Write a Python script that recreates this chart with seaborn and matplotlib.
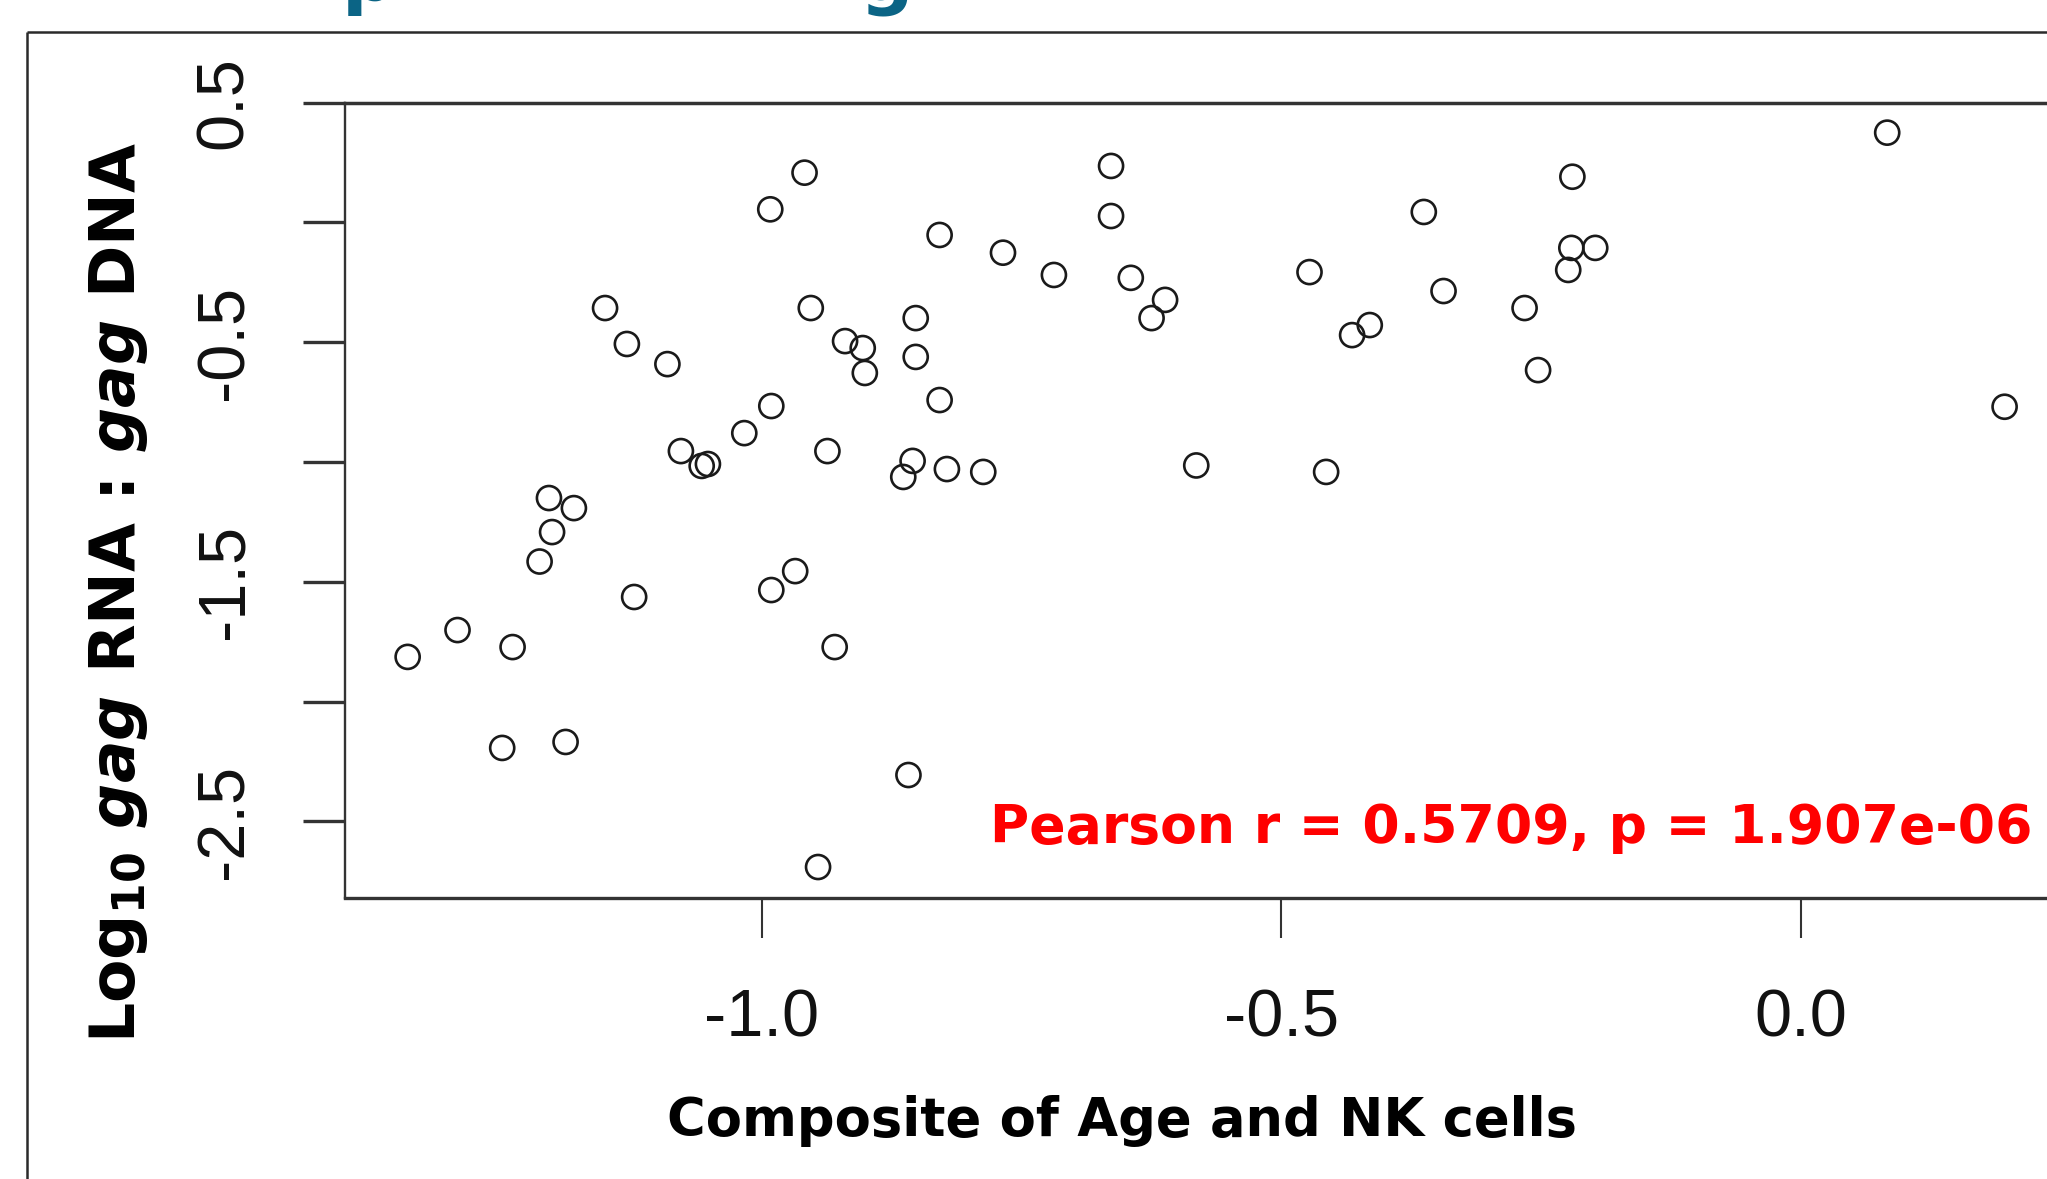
import matplotlib
matplotlib.use("Agg")
import matplotlib.pyplot as plt
from matplotlib.lines import Line2D
import seaborn as sns
import pandas as pd

# ---- data ----
composite = [-0.959, -0.992, -0.664, -0.664, -0.829, -0.768, -0.719, -0.645, -0.612, -0.625,
             -1.151, -0.953, -1.130, -1.091, -0.920, -0.903, -0.901, -0.852, -0.852, -0.829,
             -0.991, -1.017, -1.078, -1.058, -1.052, -0.937, -0.855, -0.864, -0.822, -0.787,
             -0.582, -1.205, -1.181, -1.202, -1.214, -1.123, -0.991, -0.968, -1.293, -1.341,
             -1.240, -0.930, -1.250, -1.189, -0.859, -0.946, 0.083, -0.220, -0.363, -0.221,
             -0.198, -0.224, -0.473, -0.344, -0.266, -0.415, -0.432, -0.253, 0.196, -0.457]
log_ratio = [0.208, 0.055, 0.236, 0.027, -0.052, -0.126, -0.219, -0.231, -0.323, -0.399,
             -0.357, -0.357, -0.507, -0.591, -0.495, -0.524, -0.628, -0.399, -0.561, -0.741,
             -0.766, -0.879, -0.954, -1.016, -1.008, -0.954, -0.995, -1.062, -1.029, -1.041,
             -1.014, -1.150, -1.192, -1.292, -1.415, -1.563, -1.534, -1.455, -1.701, -1.813,
             -1.772, -1.772, -2.193, -2.168, -2.306, -2.690, 0.375, 0.191, 0.044, -0.106,
             -0.106, -0.198, -0.207, -0.286, -0.357, -0.428, -0.470, -0.616, -0.769, -1.041]
x_ticks = [-1.0, -0.5, 0.0]
x_tick_labels = ["-1.0", "-0.5", "0.0"]
y_ticks = [0.5, 0.0, -0.5, -1.0, -1.5, -2.0, -2.5]
y_tick_labels = ["0.5", "", "-0.5", "", "-1.5", "", "-2.5"]
x_label = "Composite of Age and NK cells"
y_label = r"Log$_{\mathregular{10}}$ $\mathit{gag}$ RNA : $\mathit{gag}$ DNA"
stat_text = "Pearson r = 0.5709, p = 1.907e-06"

df = pd.DataFrame({"composite": composite, "log_ratio": log_ratio})

sns.set_style("white")
plt.rcParams["font.family"] = ["DejaVu Sans"]
plt.rcParams["mathtext.fontset"] = "custom"
plt.rcParams["mathtext.rm"] = "DejaVu Sans:bold"
plt.rcParams["mathtext.it"] = "DejaVu Sans:bold:italic"
plt.rcParams["mathtext.bf"] = "DejaVu Sans:bold"

W, H = 2047, 1179
fig = plt.figure(figsize=(W / 100, H / 100), dpi=100)
fig.patch.set_facecolor("white")

left_px, right_px, top_px, bottom_px = 345, 2047, 102.7, 898
ax = fig.add_axes([left_px / W, 1 - bottom_px / H,
                   (right_px - left_px) / W, (bottom_px - top_px) / H])

sns.scatterplot(data=df, x="composite", y="log_ratio", ax=ax, marker="o",
                s=300, facecolor="none", edgecolor="#1a1a1a", linewidth=1.9,
                legend=False)

ax.set_xlim(-1.4013, 0.2368)
ax.set_ylim(-2.8193, 0.5)

for side in ["top", "bottom", "left"]:
    ax.spines[side].set_visible(True)
    ax.spines[side].set_color("#333333")
ax.spines["right"].set_visible(False)
ax.spines["top"].set_linewidth(2.5)
ax.spines["bottom"].set_linewidth(2.4)
ax.spines["left"].set_linewidth(1.7)

tick_font = "Liberation Sans"
ax.set_xticks(x_ticks)
ax.set_xticklabels(x_tick_labels, fontsize=48, family=tick_font, color="#111111")
ax.set_yticks(y_ticks)
ax.set_yticklabels(y_tick_labels, fontsize=48, family=tick_font, color="#111111",
                   rotation=90, va="center")
ax.tick_params(axis="x", direction="out", length=29, width=1.5, color="#333333", pad=36,
               bottom=True)
ax.tick_params(axis="y", direction="out", length=30, width=2.4, color="#333333", pad=34,
               left=True)

ax.set_xlabel(x_label, fontsize=38, fontweight="bold", color="black")
ax.xaxis.set_label_coords((1121.6 - left_px) / (right_px - left_px),
                          (bottom_px - 1136) / (bottom_px - top_px))
ax.xaxis.label.set_verticalalignment("baseline")

ax.set_ylabel(y_label, fontsize=45.5, fontweight="bold", color="black")
ax.yaxis.set_label_coords((135 - left_px) / (right_px - left_px),
                          (bottom_px - 592) / (bottom_px - top_px))
ax.yaxis.label.set_verticalalignment("baseline")

ax.text(-0.7806, -2.5898, stat_text, color="#ff0000", fontsize=38.6,
        fontweight="bold", ha="left", va="baseline")

# slide frame around the figure panel
frame_kw = dict(transform=fig.transFigure, color="#2a2a2a", linewidth=1.8,
                solid_capstyle="butt")
fig.add_artist(Line2D([27 / W, 27 / W], [1 - 31.5 / H, -0.05], **frame_kw))
fig.add_artist(Line2D([27 / W, 1.05], [1 - 31.5 / H, 1 - 31.5 / H], **frame_kw))

# remnants of the slide title (only descenders visible in the reference)
fig.text(342 / W, 1.0, "p", color="#0b6485", fontsize=54, fontweight="bold",
         ha="left", va="baseline")
fig.text(860 / W, 1.0, "g", color="#0b6485", fontsize=54, fontweight="bold",
         ha="left", va="baseline")

fig.savefig("out.png", dpi=100, facecolor="white")
